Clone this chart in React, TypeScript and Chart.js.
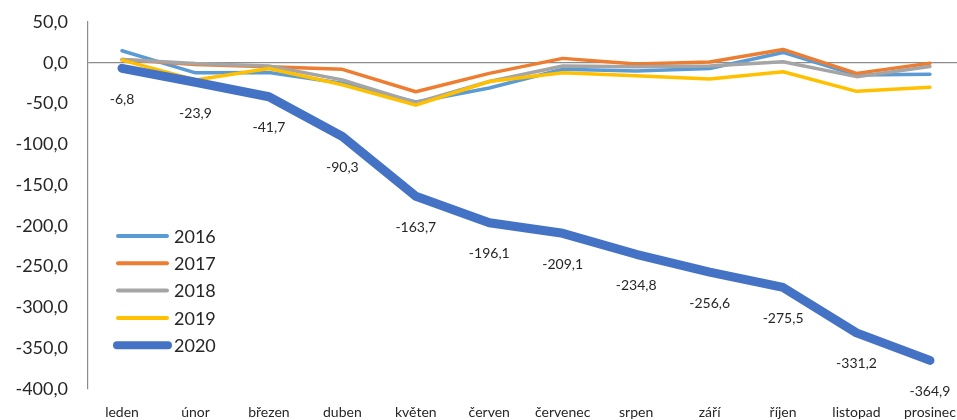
import React, { useEffect, useRef } from 'react';
import { Chart, registerables } from 'chart.js';

Chart.register(...registerables);

const months = ['leden', 'únor', 'březen', 'duben', 'květen', 'červen', 'červenec', 'srpen', 'září', 'říjen', 'listopad', 'prosinec'];
const years = ['2016', '2017', '2018', '2019', '2020'];
const v2016 = [14.7, -12.3, -12, -25, -48, -31, -8, -10, -7, 12.7, -15, -14];
const v2017 = [4, -2, -5, -8, -35.5, -13, 5.4, -1.6, 1, 16.4, -13, -0.5];
const v2018 = [4, -1, -4, -21, -49, -23, -4, -5, -4, 1.2, -17, -4.5];
const v2019 = [3.3, -21, -7, -27, -52, -23, -12.3, -16, -20, -11, -35, -30];
const v2020 = [-6.8, -23.9, -41.7, -90.3, -163.7, -196.1, -209.1, -234.8, -256.6, -275.5, -331.2, -364.9];
const seriesValues = [v2016, v2017, v2018, v2019, v2020];
const colors = ['#5B9BD5', '#ED7D31', '#A5A5A5', '#FFC000', '#4472C4'];
const widths = [3.5, 3.5, 3.5, 3.5, 9];

const FONT = 'Lato, "Liberation Sans", sans-serif';
const TEXT = '#262626';
const fmt = (v: number) => v.toFixed(1).replace('.', ',');

const overlayPlugin = {
  id: 'overlay',
  afterDatasetsDraw(chart: any) {
    const ctx = chart.ctx;
    ctx.save();
    const meta = chart.getDatasetMeta(4);
    ctx.font = `14px ${FONT}`;
    ctx.fillStyle = TEXT;
    ctx.textAlign = 'center';
    ctx.textBaseline = 'middle';
    meta.data.forEach((pt: any, i: number) => {
      ctx.fillText(fmt(v2020[i]), pt.x, pt.y + 31);
    });
    chart.data.datasets.forEach((ds: any, i: number) => {
      const y = 236 + i * 27.3;
      ctx.beginPath();
      ctx.strokeStyle = ds.borderColor;
      ctx.lineWidth = i === 4 ? 8 : 4;
      ctx.lineCap = 'round';
      ctx.moveTo(i === 4 ? 117 : 118, y);
      ctx.lineTo(i === 4 ? 168 : 167, y);
      ctx.stroke();
      ctx.font = `18px ${FONT}`;
      ctx.fillStyle = TEXT;
      ctx.textAlign = 'left';
      ctx.textBaseline = 'middle';
      ctx.fillText(ds.label, 174, y + 1);
    });
    ctx.restore();
  },
};

export default function App() {
  const ref = useRef<HTMLCanvasElement | null>(null);
  useEffect(() => {
    if (!ref.current) return;
    const chart = new Chart(ref.current, {
      type: 'line',
      data: {
        datasets: years.map((y, k) => ({
          label: y,
          data: seriesValues[k].map((v, i) => ({ x: i, y: v })),
          borderColor: colors[k],
          backgroundColor: colors[k],
          borderWidth: widths[k],
          pointRadius: 0,
          borderCapStyle: 'round',
          borderJoinStyle: 'round',
          tension: 0,
          fill: false,
          order: 4 - k,
        })),
      },
      options: {
        responsive: false,
        animation: false,
        layout: { padding: { top: 22, left: 0, right: 0, bottom: 0 } },
        plugins: { legend: { display: false }, tooltip: { enabled: false } },
        scales: {
          x: {
            type: 'linear',
            min: -0.463,
            max: 11.368,
            grid: { display: false },
            border: { display: false },
            afterFit: (s: any) => { s.height = 31; s.paddingLeft = 0; s.paddingRight = 0; },
            ticks: {
              stepSize: 1,
              includeBounds: false,
              autoSkip: false,
              maxRotation: 0,
              minRotation: 0,
              padding: 7,
              color: TEXT,
              font: { family: FONT, size: 14 },
              callback: (v: any) => (Number.isInteger(v) && months[v] ? months[v] : ''),
            },
          },
          y: {
            min: -400,
            max: 50,
            afterFit: (s: any) => { s.width = 88; s.paddingTop = 0; s.paddingBottom = 0; },
            grid: {
              drawTicks: false,
              color: (c: any) => (c.tick && c.tick.value === 0 ? '#8C8C8C' : 'rgba(0,0,0,0)'),
              lineWidth: 1.2,
            },
            border: { display: true, color: '#8C8C8C', width: 1.2 },
            ticks: {
              stepSize: 50,
              padding: 20,
              color: TEXT,
              font: { family: FONT, size: 18 },
              callback: (v: any) => fmt(Number(v)),
            },
          },
        },
      },
      plugins: [overlayPlugin],
    } as any);
    return () => chart.destroy();
  }, []);
  return (
    <div style={{ position: 'fixed', left: 0, top: 0, width: 957, height: 420, background: '#fff' }}>
      <canvas ref={ref} width={957} height={420} style={{ display: 'block' }} />
    </div>
  );
}
